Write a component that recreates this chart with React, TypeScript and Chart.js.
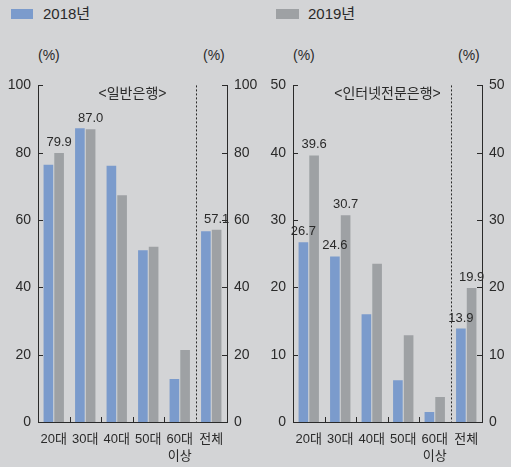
import React, { useEffect, useRef } from 'react';
import { Chart, registerables } from 'chart.js';

Chart.register(...registerables);

const FONT = "'Liberation Sans', 'Noto Sans CJK KR', Arial, sans-serif";

const seriesNames = ['2018년', '2019년'];
const categoryLabels = [['20대'], ['30대'], ['40대'], ['50대'], ['60대', '이상'], ['전체']];

const general2018 = [76.4, 87.3, 76.1, 51.0, 12.8, 56.7];
const general2019 = [79.9, 87.0, 67.4, 52.1, 21.4, 57.1];
const generalShow2018 = [false, false, false, false, false, false];
const generalShow2019 = [true, true, false, false, false, true];

const internet2018 = [26.7, 24.6, 16.0, 6.2, 1.5, 13.9];
const internet2019 = [39.6, 30.7, 23.5, 12.9, 3.7, 19.9];
const internetShow2018 = [true, true, false, false, false, true];
const internetShow2019 = [true, true, false, false, false, true];

const panelTitles = ['<일반은행>', '<인터넷전문은행>'];
const generalAxis = { max: 100, step: 20 };
const internetAxis = { max: 50, step: 10 };

const BLUE = '#7b9bcc';
const GRAY = '#9ea1a4';
const BG = '#d3d4d6';
const INK = '#2a2a2a';

const decorPlugin = {
  id: 'decor',
  afterDatasetsDraw(chart: any, _args: any, opts: any) {
    const ctx = chart.ctx;
    const area = chart.chartArea;
    const xs = chart.scales.x;
    const ys = chart.scales.y;
    ctx.save();
    ctx.strokeStyle = INK;
    ctx.lineWidth = 1;
    // inward ticks on y axes
    ys.ticks.forEach((t: any) => {
      const py = Math.round(ys.getPixelForValue(t.value)) + 0.5;
      ctx.beginPath();
      ctx.moveTo(area.left, py);
      ctx.lineTo(area.left + 5, py);
      ctx.moveTo(area.right - 5, py);
      ctx.lineTo(area.right, py);
      ctx.stroke();
    });
    // x boundaries
    const n = chart.data.labels.length;
    for (let i = 1; i < n; i++) {
      const bx = Math.round((xs.getPixelForValue(i - 1) + xs.getPixelForValue(i)) / 2) + 0.5;
      ctx.beginPath();
      if (i === n - 1) {
        ctx.setLineDash([2, 2]);
        ctx.moveTo(bx, area.top);
        ctx.lineTo(bx, area.bottom);
      } else {
        ctx.setLineDash([]);
        ctx.moveTo(bx, area.bottom);
        ctx.lineTo(bx, area.bottom - 5);
      }
      ctx.stroke();
    }
    ctx.setLineDash([]);
    // value labels
    ctx.fillStyle = INK;
    ctx.font = `13px ${FONT}`;
    ctx.textAlign = 'center';
    ctx.textBaseline = 'bottom';
    const flags = opts.flags || [];
    chart.data.datasets.forEach((ds: any, di: number) => {
      const meta = chart.getDatasetMeta(di);
      meta.data.forEach((el: any, i: number) => {
        if (flags[di] && flags[di][i]) {
          ctx.fillText(Number(ds.data[i]).toFixed(1), el.x, el.y - 4);
        }
      });
    });
    ctx.restore();
  },
};

type PanelProps = {
  left: number;
  width: number;
  leftAxisW: number;
  rightAxisW: number;
  d2018: number[];
  d2019: number[];
  f2018: boolean[];
  f2019: boolean[];
  max: number;
  step: number;
};

function Panel(p: PanelProps) {
  const ref = useRef<HTMLCanvasElement>(null);
  useEffect(() => {
    const tickFont = { family: FONT, size: 14 };
    const yCommon = {
      min: 0,
      max: p.max,
      grid: { display: false, drawTicks: false },
      border: { display: true, color: INK, width: 1 },
      ticks: { stepSize: p.step, color: INK, font: tickFont, padding: 7 },
    };
    const chart = new Chart(ref.current as HTMLCanvasElement, {
      type: 'bar',
      data: {
        labels: categoryLabels as any,
        datasets: [
          { label: seriesNames[0], data: p.d2018, backgroundColor: BLUE, borderWidth: 0, yAxisID: 'y' },
          { label: seriesNames[1], data: p.d2019, backgroundColor: GRAY, borderWidth: 0, yAxisID: 'y' },
        ],
      },
      options: {
        responsive: false,
        animation: false,
        devicePixelRatio: 1,
        layout: { padding: { top: 12, left: 0, right: 0, bottom: 0 } },
        datasets: { bar: { categoryPercentage: 0.68, barPercentage: 0.9 } } as any,
        plugins: {
          legend: { display: false },
          tooltip: { enabled: false },
          decor: { flags: [p.f2018, p.f2019] },
        } as any,
        scales: {
          x: {
            grid: { display: false, drawTicks: false },
            border: { display: true, color: INK, width: 1 },
            ticks: { color: INK, font: { family: FONT, size: 13, lineHeight: 1.3 }, padding: 9, maxRotation: 0, autoSkip: false },
            afterFit: (s: any) => { s.height = 45; },
          },
          y: { ...yCommon, position: 'left', afterFit: (s: any) => { s.width = p.leftAxisW; } },
          y2: { ...yCommon, position: 'right', afterFit: (s: any) => { s.width = p.rightAxisW; } },
        } as any,
      },
      plugins: [decorPlugin],
    });
    return () => chart.destroy();
  }, []);
  return (
    <canvas
      ref={ref}
      width={p.width}
      height={397}
      style={{ position: 'absolute', left: p.left, top: 70, width: p.width, height: 397 }}
    />
  );
}

const textBase: React.CSSProperties = {
  position: 'absolute',
  fontFamily: FONT,
  color: INK,
  whiteSpace: 'nowrap',
  margin: 0,
};

export default function App() {
  return (
    <div style={{ position: 'fixed', left: 0, top: 0, width: 511, height: 467, background: BG, overflow: 'hidden' }}>
      {/* legend */}
      <div style={{ position: 'absolute', left: 11, top: 9, width: 22, height: 10, background: BLUE }} />
      <div style={{ ...textBase, left: 43, top: 4, fontSize: 15, lineHeight: '20px' }}>{seriesNames[0]}</div>
      <div style={{ position: 'absolute', left: 276, top: 9, width: 23, height: 10, background: GRAY }} />
      <div style={{ ...textBase, left: 308, top: 4, fontSize: 15, lineHeight: '20px' }}>{seriesNames[1]}</div>

      {/* unit labels */}
      <div style={{ ...textBase, left: 38, top: 45, fontSize: 14, lineHeight: '20px' }}>(%)</div>
      <div style={{ ...textBase, left: 203, top: 45, fontSize: 14, lineHeight: '20px' }}>(%)</div>
      <div style={{ ...textBase, left: 293, top: 45, fontSize: 14, lineHeight: '20px' }}>(%)</div>
      <div style={{ ...textBase, left: 458, top: 45, fontSize: 14, lineHeight: '20px' }}>(%)</div>

      <Panel left={0} width={265} leftAxisW={38} rightAxisW={38}
        d2018={general2018} d2019={general2019} f2018={generalShow2018} f2019={generalShow2019}
        max={generalAxis.max} step={generalAxis.step} />
      <Panel left={255} width={256} leftAxisW={38} rightAxisW={29}
        d2018={internet2018} d2019={internet2019} f2018={internetShow2018} f2019={internetShow2019}
        max={internetAxis.max} step={internetAxis.step} />

      {/* panel titles */}
      <div style={{ ...textBase, left: 132.5, top: 83, transform: 'translateX(-50%)', fontSize: 14, lineHeight: '20px' }}>{panelTitles[0]}</div>
      <div style={{ ...textBase, left: 387.5, top: 83, transform: 'translateX(-50%)', fontSize: 14, lineHeight: '20px' }}>{panelTitles[1]}</div>
    </div>
  );
}
